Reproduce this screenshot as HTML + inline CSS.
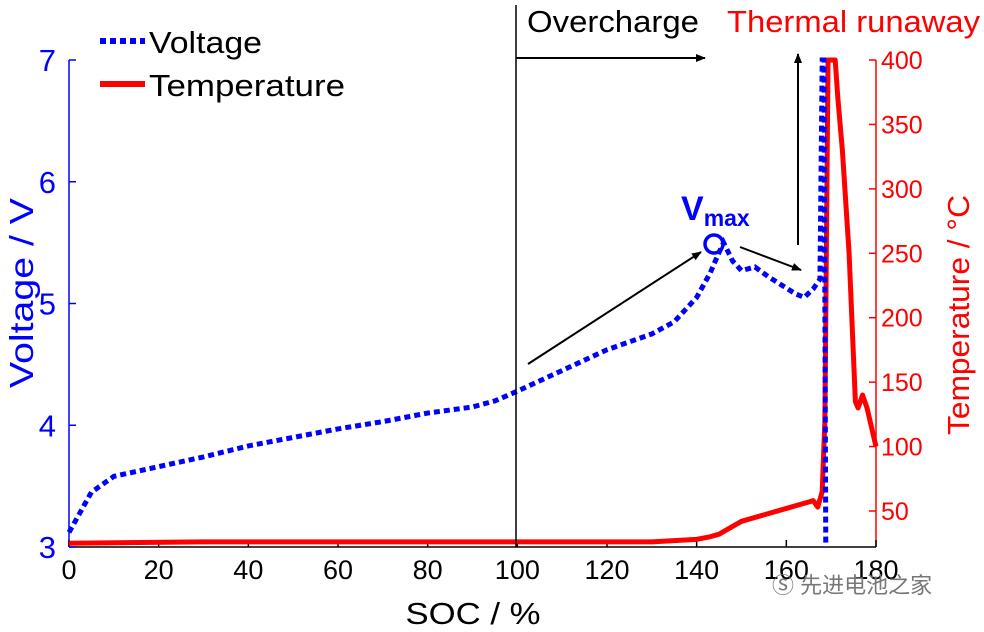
<!DOCTYPE html>
<html><head><meta charset="utf-8"><style>
body{margin:0;background:#fff}
svg{display:block;font-family:"Liberation Sans","Noto Sans CJK SC",sans-serif}
</style></head><body>
<svg id="chart" width="984" height="632" viewBox="0 0 984 632" xmlns="http://www.w3.org/2000/svg">
<g id="axes"></g>
<g id="series"></g>
<g>
<defs><marker id="ah" markerWidth="10" markerHeight="8" refX="9" refY="4" orient="auto" markerUnits="userSpaceOnUse"><path d="M0,0 L10,4 L0,8 z" fill="#000"/></marker></defs>
<line x1="516" y1="5" x2="516" y2="547" stroke="#000" stroke-width="1.5"/>
<text x="527" y="32" font-size="31" fill="#000" textLength="172" lengthAdjust="spacingAndGlyphs">Overcharge</text>
<line x1="516" y1="58" x2="705" y2="58" stroke="#000" stroke-width="2" marker-end="url(#ah)"/>
<text x="727" y="32" font-size="31" fill="#f00" textLength="253" lengthAdjust="spacingAndGlyphs">Thermal runaway</text>
<line x1="798" y1="245" x2="798" y2="54" stroke="#000" stroke-width="2" marker-end="url(#ah)"/>
<line x1="528" y1="364" x2="701" y2="252" stroke="#000" stroke-width="2" marker-end="url(#ah)"/>
<line x1="740" y1="247" x2="801" y2="270" stroke="#000" stroke-width="2" marker-end="url(#ah)"/>
<text x="681" y="220" font-size="34" font-weight="bold" fill="#00f">V<tspan font-size="23" dy="6">max</tspan></text>
<circle cx="714" cy="244" r="9" fill="none" stroke="#00f" stroke-width="3.5"/>
</g>
<g>
<line x1="100" y1="41" x2="145" y2="41" stroke="#00f" stroke-width="6" stroke-dasharray="6,4"/>
<text x="149" y="53" font-size="31" textLength="113" lengthAdjust="spacingAndGlyphs">Voltage</text>
<line x1="100" y1="84" x2="145" y2="84" stroke="#f00" stroke-width="6"/>
<text x="149" y="96" font-size="31" textLength="196" lengthAdjust="spacingAndGlyphs">Temperature</text>
</g>
<text x="772" y="593" font-size="22" fill="#777">Ⓢ 先进电池之家</text>
</svg>
<script>
const socV=[0,5,10,15,20,30,40,50,60,70,80,90,95,100,110,120,130,135,140,143,145,146,148,150,153,156,159,162,164,166,167.5,168,168.4,168.8];
const volts=[3.12,3.45,3.58,3.62,3.66,3.74,3.83,3.9,3.97,4.03,4.1,4.15,4.2,4.28,4.45,4.62,4.75,4.85,5.05,5.25,5.42,5.5,5.35,5.27,5.3,5.22,5.15,5.08,5.05,5.12,5.2,7,7,3];
const socT=[0,30,60,100,130,135,140,143,145,148,150,155,160,165,166,167,168,168.6,169.3,170.9,171.5,172.5,174,175.4,176,177,178,180];
const temps=[25,26,26,26,26,27,28,30,32,38,42,47,52,57,58,53,65,120,400,400,370,330,250,135,130,140,130,100];
const xTicks=[0,20,40,60,80,100,120,140,160,180];
const vTicks=[3,4,5,6,7];
const tTicks=[50,100,150,200,250,300,350,400];
const X0=69,X1=876,YB=547,YT=60;
const xs=s=>X0+s*(X1-X0)/180;
const yv=v=>YB-(v-3)*(YB-YT)/4;
const yt=t=>YT+(400-t)*(511-YT)/350;
const NS="http://www.w3.org/2000/svg";
function mk(tag,attrs,parent,txt){const e=document.createElementNS(NS,tag);for(const k in attrs)e.setAttribute(k,attrs[k]);if(txt!==undefined)e.textContent=txt;parent.appendChild(e);return e;}
const ax=document.getElementById('axes'),se=document.getElementById('series');
let e;
e=mk('line',{x1:X0,y1:YB,x2:X1,y2:YB,stroke:'#000','stroke-width':1.5},ax);


e=mk('line',{x1:X0,y1:YT,x2:X0,y2:YB,stroke:'#00f','stroke-width':1.5},ax);


e=mk('line',{x1:X1,y1:YT,x2:X1,y2:YB,stroke:'#f00','stroke-width':1.5},ax);


xTicks.forEach(t=>{
 mk('line',{x1:xs(t),y1:YB,x2:xs(t),y2:YB-7,stroke:'#000','stroke-width':1.5},ax);
 e=mk('text',{x:xs(t),y:YB+32,'font-size':27,'text-anchor':'middle'},ax,t);
 
 
});
vTicks.forEach(t=>{
 mk('line',{x1:X0,y1:yv(t),x2:X0+7,y2:yv(t),stroke:'#00f','stroke-width':1.5},ax);
 e=mk('text',{x:X0-13,y:yv(t)+11,'font-size':31,'text-anchor':'end',fill:'#00f'},ax,t);
 
 
});
tTicks.forEach(t=>{
 mk('line',{x1:X1,y1:yt(t),x2:X1-7,y2:yt(t),stroke:'#f00','stroke-width':1.5},ax);
 e=mk('text',{x:X1+5,y:yt(t)+9,'font-size':25,fill:'#f00'},ax,t);
 
 
});
e=mk('text',{x:473,y:624,'font-size':31,'text-anchor':'middle',textLength:135,lengthAdjust:'spacingAndGlyphs'},ax,'SOC / %');


e=mk('text',{x:0,y:0,'font-size':33,'text-anchor':'middle',fill:'#00f',textLength:190,lengthAdjust:'spacingAndGlyphs',transform:'translate(33,293) rotate(-90)'},ax,'Voltage / V');


e=mk('text',{x:0,y:0,'font-size':31,'text-anchor':'middle',fill:'#f00',textLength:240,lengthAdjust:'spacingAndGlyphs',transform:'translate(969,315) rotate(-90)'},ax,'Temperature / °C');


e=mk('polyline',{points:socT.map((s,i)=>xs(s)+','+yt(temps[i])).join(' '),fill:'none',stroke:'#f00','stroke-width':5,'stroke-linejoin':'round'},se);


e=mk('polyline',{points:socV.map((s,i)=>xs(s)+','+yv(volts[i])).join(' '),fill:'none',stroke:'#00f','stroke-width':5,'stroke-dasharray':'6,4'},se);


</script>
</body></html>
